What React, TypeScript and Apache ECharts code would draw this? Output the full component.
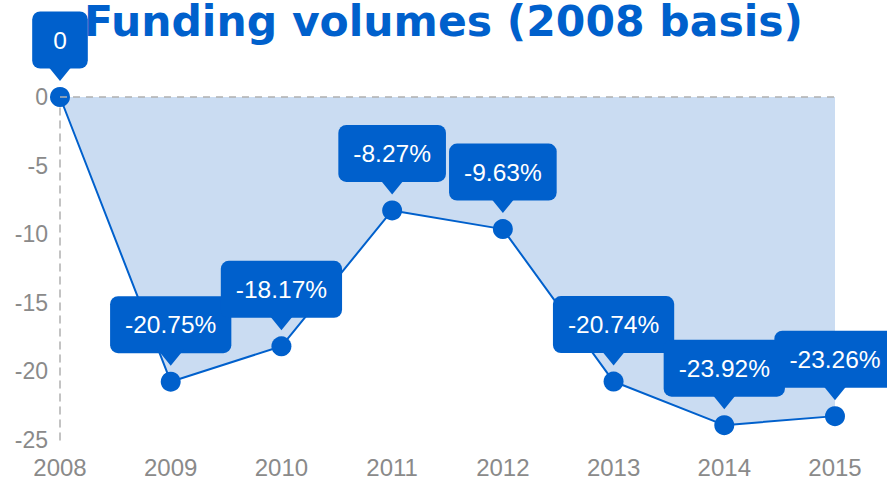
import React, { useEffect, useRef } from "react";
import * as echarts from "echarts";

const years = ["2008", "2009", "2010", "2011", "2012", "2013", "2014", "2015"];
const changes = [0, -20.75, -18.17, -8.27, -9.63, -20.74, -23.92, -23.26];
const yTicks = { min: -25, max: 0, interval: 5 };
const titleText = "Funding volumes (2008 basis)";

const BLUE = "#0060CC";
const GRAY = "#8a8a8a";

export default function App() {
  const ref = useRef<HTMLDivElement>(null);
  useEffect(() => {
    if (!ref.current) return;
    document.body.style.margin = "0";
    const chart = echarts.init(ref.current, null, { renderer: "svg" });
    const lineData = changes.map((v, i) =>
      i === 0 ? { value: v, label: { padding: [16, 21] } } : v
    );
    chart.setOption({
      animation: false,
      title: {
        text: titleText,
        left: "center",
        top: 0,
        padding: 0,
        textStyle: {
          fontFamily: "DejaVu Sans",
          fontWeight: "bold",
          fontSize: 42.5,
          lineHeight: 43,
          color: BLUE,
        },
      },
      grid: { left: 60, right: 52, top: 97, bottom: 40, containLabel: false },
      xAxis: {
        type: "category",
        data: years,
        boundaryGap: false,
        axisLine: { show: false },
        axisTick: { show: false },
        splitLine: { show: false },
        axisLabel: {
          color: GRAY,
          fontSize: 24,
          fontFamily: "Liberation Sans",
          margin: 15,
        },
      },
      yAxis: {
        type: "value",
        min: yTicks.min,
        max: yTicks.max,
        interval: yTicks.interval,
        axisLine: {
          show: true,
          lineStyle: { color: "#b0b0b0", type: [7, 6], width: 1.5 },
        },
        axisTick: { show: false },
        splitLine: { show: false },
        axisLabel: {
          color: GRAY,
          fontSize: 23,
          fontFamily: "Liberation Sans",
          margin: 12,
        },
      },
      series: [
        {
          type: "line",
          data: lineData,
          symbol: "circle",
          symbolSize: 20,
          lineStyle: { color: BLUE, width: 2 },
          itemStyle: { color: BLUE },
          areaStyle: { color: "#CADCF2", opacity: 1 },
          label: {
            show: true,
            position: "top",
            distance: 18.5,
            color: "#ffffff",
            fontSize: 24.5,
            fontFamily: "Liberation Sans",
            backgroundColor: BLUE,
            borderRadius: 8,
            padding: [16, 15],
            lineHeight: 25,
            formatter: (p: any) =>
              p.value === 0 ? "0" : p.value.toFixed(2) + "%",
          },
          markLine: {
            silent: true,
            symbol: "none",
            label: { show: false },
            lineStyle: { color: "#b0b0b0", type: [7, 6], width: 1.5 },
            data: [{ yAxis: 0 }],
          },
          z: 2,
        },
        {
          type: "scatter",
          data: changes,
          symbol: "triangle",
          symbolRotate: 180,
          symbolSize: [26, 16],
          symbolOffset: [0, -24],
          itemStyle: { color: BLUE, opacity: 1 },
          silent: true,
          z: 3,
        },
      ],
    });
    return () => chart.dispose();
  }, []);
  return <div ref={ref} style={{ width: 887, height: 480 }} />;
}
